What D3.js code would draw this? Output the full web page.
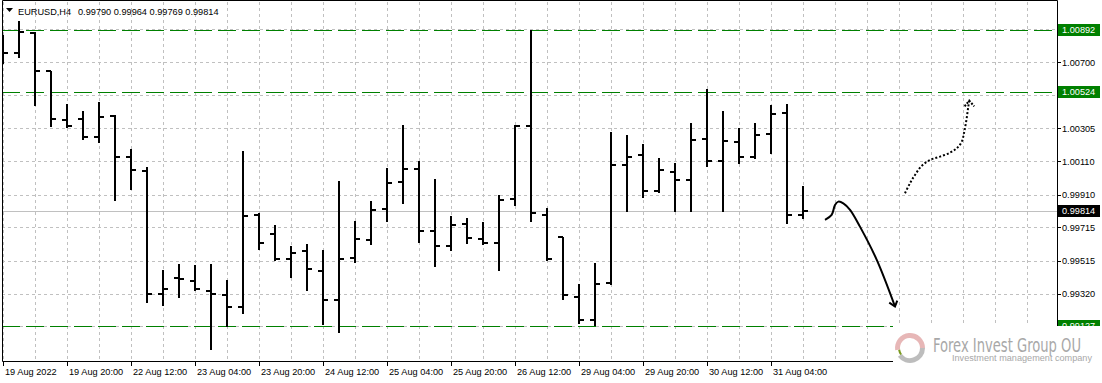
<!DOCTYPE html>
<html>
<head>
<meta charset="utf-8">
<script src="https://cdn.jsdelivr.net/npm/d3@7/dist/d3.min.js"></script>
<style>
  body { margin: 0; background: #fff; }
  svg { display: block; }
  text { font-family: "Liberation Sans", Arial, sans-serif; }
</style>
</head>
<body>
<div id="chart"></div>
<script>
// EURUSD H4 bar chart (MT4 style)
const symbolTitle = "EURUSD,H4";
const lastQuote = [0.99790, 0.99964, 0.99769, 0.99814];

const opens  = [1.00780, 1.00755, 1.00875, 1.00648, 1.00355, 1.00362, 1.00255, 1.00378, 1.00132, 1.00053,
                0.99318, 0.99414, 0.99397, 0.99338, 0.99314, 0.99239, 0.99787, 0.99676, 0.99528, 0.99573,
                0.99457, 0.99283, 0.99533, 0.99640, 0.99826, 0.99985, 1.00065, 0.99692, 0.99604, 0.99735,
                0.99648, 0.99624, 0.99886, 1.00319, 0.99791, 0.99660, 0.99299, 0.99163, 0.99382, 1.00085,
                1.00144, 0.99930, 1.00045, 0.99997, 1.00243, 1.00112, 1.00224, 1.00136, 1.00271, 1.00394,
                0.99790];
const highs  = [1.00861, 1.00942, 1.00879, 1.00648, 1.00450, 1.00410, 1.00462, 1.00386, 1.00180, 1.00073,
                0.99461, 0.99497, 0.99489, 0.99497, 0.99402, 1.00168, 0.99799, 0.99727, 0.99604, 0.99616,
                0.99580, 0.99989, 0.99755, 0.99870, 1.00069, 1.00323, 1.00109, 1.00001, 0.99783, 0.99771,
                0.99747, 0.99906, 1.00323, 1.00891, 0.99830, 0.99660, 0.99378, 0.99501, 1.00283, 1.00263,
                1.00212, 1.00128, 1.00097, 1.00335, 1.00537, 1.00406, 1.00307, 1.00335, 1.00442, 1.00450,
                0.99964];
const lows   = [1.00694, 1.00732, 1.00446, 1.00319, 1.00315, 1.00243, 1.00224, 0.99878, 0.99945, 0.99271,
                0.99254, 0.99299, 0.99342, 0.98989, 0.99128, 0.99203, 0.99588, 0.99521, 0.99421, 0.99342,
                0.99140, 0.99092, 0.99509, 0.99616, 0.99755, 0.99862, 0.99628, 0.99485, 0.99580, 0.99624,
                0.99616, 0.99461, 0.99850, 0.99751, 0.99521, 0.99287, 0.99144, 0.99135, 0.99378, 0.99811,
                0.99894, 0.99926, 0.99814, 0.99814, 1.00081, 0.99814, 1.00097, 1.00128, 1.00160, 0.99739,
                0.99769];
const closes = [1.00755, 1.00879, 1.00648, 1.00359, 1.00319, 1.00255, 1.00374, 1.00136, 1.00057, 0.99318,
                0.99350, 0.99408, 0.99350, 0.99318, 0.99239, 0.99783, 0.99624, 0.99528, 0.99564, 0.99465,
                0.99283, 0.99528, 0.99648, 0.99819, 0.99981, 1.00065, 0.99695, 0.99604, 0.99727, 0.99652,
                0.99624, 0.99878, 1.00319, 0.99799, 0.99525, 0.99311, 0.99163, 0.99378, 1.00085, 1.00136,
                0.99933, 1.00057, 0.99997, 1.00235, 1.00112, 1.00231, 1.00136, 1.00267, 1.00390, 0.99790,
                0.99814];

// grid rows; the outer two sit under the level tags and carry no label
const priceTicks = [1.00895, 1.00700, 1.00505, 1.00305, 1.00110, 0.99910, 0.99715, 0.99515, 0.99320, 0.99125];
const priceLabels = [1.00700, 1.00505, 1.00305, 1.00110, 0.99910, 0.99715, 0.99515, 0.99320];
const timeTickIdx = [0, 4, 8, 12, 16, 20, 24, 28, 32, 36, 40, 44, 48];
const timeLabels = ["19 Aug 2022", "19 Aug 20:00", "22 Aug 12:00", "23 Aug 04:00", "23 Aug 20:00",
                    "24 Aug 12:00", "25 Aug 04:00", "25 Aug 20:00", "26 Aug 12:00", "29 Aug 04:00",
                    "29 Aug 20:00", "30 Aug 12:00", "31 Aug 04:00"];
const levels = [1.00892, 1.00524, 0.99127];
const currentPrice = 0.99814;

// hand-drawn forecast arrows, in [bar index, price]
const downArrow = [[51.375, 0.99759], [51.79, 0.99789], [52.0, 0.99848], [52.21, 0.99868], [52.52, 0.99858],
                   [52.94, 0.99819], [53.56, 0.99719], [54.61, 0.99521], [55.75, 0.99243]];
const downHead  = [[55.39, 0.99266], [55.75, 0.99243], [55.89, 0.99278]];
const upArrow   = [[56.375, 0.99918], [56.69, 0.99978], [57.0, 1.00027], [57.42, 1.00081], [57.94, 1.00116],
                   [58.56, 1.00136], [59.19, 1.00160], [59.61, 1.00186], [59.92, 1.00225], [60.08, 1.00285],
                   [60.23, 1.00365], [60.33, 1.00434], [60.39, 1.00470]];
const upHead    = [[60.10, 1.00436], [60.39, 1.00470], [60.70, 1.00436]];

const width = 1102, height = 383;
const plot = { left: 2, top: 0, right: 1057, bottom: 361 };
const fs = 9.2;

const svg = d3.select('#chart').append('svg')
    .attr('width', width)
    .attr('height', height);

svg.append('rect').attr('width', width).attr('height', height).attr('fill', '#fff');

const x = d3.scaleLinear().domain([0, 64]).range([3, 1027]);
const y = d3.scaleLinear().domain([1.00700, 0.99320]).range([62, 293.6]);
const px = v => Math.round(v) + 0.5;

svg.append('defs').append('clipPath').attr('id', 'plotclip')
    .append('rect')
    .attr('x', plot.left).attr('y', plot.top)
    .attr('width', plot.right - plot.left).attr('height', plot.bottom - plot.top);

const g = svg.append('g').attr('clip-path', 'url(#plotclip)');

// grid
g.selectAll('.vgrid').data(d3.range(0, 65, 2)).enter().append('line')
    .attr('x1', d => px(x(d))).attr('x2', d => px(x(d)))
    .attr('y1', plot.top + 2).attr('y2', plot.bottom)
    .attr('stroke', '#c0c0c0').attr('stroke-dasharray', '3,3');

g.selectAll('.hgrid').data(priceTicks).enter().append('line')
    .attr('x1', plot.left).attr('x2', plot.right)
    .attr('y1', d => px(y(d))).attr('y2', d => px(y(d)))
    .attr('stroke', '#c0c0c0').attr('stroke-dasharray', '3,3');

// bid line
g.append('line')
    .attr('x1', plot.left).attr('x2', plot.right)
    .attr('y1', px(y(currentPrice))).attr('y2', px(y(currentPrice)))
    .attr('stroke', '#c0c0c0');

// support / resistance
g.selectAll('.level').data(levels).enter().append('line')
    .attr('x1', plot.left).attr('x2', plot.right)
    .attr('y1', d => px(y(d))).attr('y2', d => px(y(d)))
    .attr('stroke', '#008000').attr('stroke-dasharray', '18,6');

// OHLC bars
const bars = g.selectAll('.bar').data(opens.map((o, i) => ({ i, o, h: highs[i], l: lows[i], c: closes[i] })))
    .enter().append('g');
bars.append('line')
    .attr('x1', d => x(d.i)).attr('x2', d => x(d.i))
    .attr('y1', d => Math.round(y(d.h))).attr('y2', d => Math.round(y(d.l)) + 1)
    .attr('stroke', '#000').attr('stroke-width', 2);
bars.append('line')
    .attr('x1', d => x(d.i) - 5).attr('x2', d => x(d.i))
    .attr('y1', d => Math.round(y(d.o))).attr('y2', d => Math.round(y(d.o)))
    .attr('stroke', '#000').attr('stroke-width', 2);
bars.append('line')
    .attr('x1', d => x(d.i)).attr('x2', d => x(d.i) + 5)
    .attr('y1', d => Math.round(y(d.c))).attr('y2', d => Math.round(y(d.c)))
    .attr('stroke', '#000').attr('stroke-width', 2);

// arrows
const line = d3.line().x(d => x(d[0])).y(d => y(d[1]));
const curve = d3.line().x(d => x(d[0])).y(d => y(d[1])).curve(d3.curveCatmullRom);
g.append('path').attr('d', curve(downArrow)).attr('fill', 'none')
    .attr('stroke', '#000').attr('stroke-width', 2);
g.append('path').attr('d', line(downHead)).attr('fill', 'none')
    .attr('stroke', '#000').attr('stroke-width', 2);
g.append('path').attr('d', curve(upArrow)).attr('fill', 'none')
    .attr('stroke', '#000').attr('stroke-width', 2).attr('stroke-dasharray', '2,2');
g.append('path').attr('d', line(upHead)).attr('fill', 'none')
    .attr('stroke', '#000').attr('stroke-width', 2).attr('stroke-dasharray', '2,1.5');

// frame
svg.append('path')
    .attr('d', `M${plot.left + 0.5},${plot.bottom + 0.5}V${plot.top + 0.5}H${plot.right + 0.5}V${plot.bottom + 0.5}H${plot.left + 0.5}`)
    .attr('fill', 'none').attr('stroke', '#000');

// price axis
const pa = svg.append('g');
pa.selectAll('line').data(priceTicks).enter().append('line')
    .attr('x1', plot.right).attr('x2', plot.right + 4)
    .attr('y1', d => px(y(d))).attr('y2', d => px(y(d)))
    .attr('stroke', '#000');
pa.selectAll('text').data(priceLabels).enter().append('text')
    .attr('x', plot.right + 5).attr('y', d => y(d) + 3.5)
    .attr('font-size', fs).attr('fill', '#000')
    .text(d => d.toFixed(5));

// level labels
const tags = levels.map(v => ({ v, fill: '#008000' })).concat([{ v: currentPrice, fill: '#000' }]);
const tg = svg.selectAll('.tag').data(tags).enter().append('g');
tg.append('rect')
    .attr('x', plot.right + 1).attr('y', d => Math.round(y(d.v)) - 6)
    .attr('width', 42).attr('height', 12).attr('fill', d => d.fill);
tg.append('text')
    .attr('x', plot.right + 5).attr('y', d => y(d.v) + 3.5)
    .attr('font-size', fs).attr('fill', '#fff')
    .text(d => d.v.toFixed(5));

// time axis
const ta = svg.append('g');
ta.selectAll('line').data(timeTickIdx).enter().append('line')
    .attr('x1', d => px(x(d))).attr('x2', d => px(x(d)))
    .attr('y1', plot.bottom).attr('y2', plot.bottom + 5)
    .attr('stroke', '#000');
ta.selectAll('text').data(timeTickIdx).enter().append('text')
    .attr('x', d => x(d) + 2).attr('y', 375)
    .attr('font-size', fs).attr('fill', '#000')
    .text((d, i) => timeLabels[i]);

// title
svg.append('path').attr('d', 'M6,8H13L9.5,12Z').attr('fill', '#000');
const title = svg.append('text').attr('x', 18).attr('y', 14.5).attr('font-size', fs).attr('fill', '#000');
title.append('tspan').text(symbolTitle);
title.append('tspan').attr('x', 78).text(lastQuote.map(v => v.toFixed(5)).join(' '));

// logo
const logo = svg.append('g');
logo.append('rect').attr('x', 893).attr('y', 326).attr('width', width - 893).attr('height', height - 326).attr('fill', '#fff');
const arc = d3.arc().innerRadius(10).outerRadius(15);
logo.append('path').attr('transform', 'translate(910,348)')
    .attr('d', arc({ startAngle: -Math.PI * 0.55, endAngle: Math.PI * 0.5 }))
    .attr('fill', '#e7b7b7');
logo.append('path').attr('transform', 'translate(910,348)')
    .attr('d', arc({ startAngle: Math.PI * 0.5, endAngle: Math.PI * 1.3 }))
    .attr('fill', '#bdbdbd');
logo.append('path').attr('transform', 'translate(910,348)')
    .attr('d', d3.arc().innerRadius(10).outerRadius(12)({ startAngle: Math.PI * 1.3, endAngle: Math.PI * 1.45 }))
    .attr('fill', '#7a9a20');
logo.append('text').attr('x', 933).attr('y', 351.5)
    .attr('font-size', 19).attr('fill', '#a8a8a8')
    .attr('textLength', 148).attr('lengthAdjust', 'spacingAndGlyphs')
    .style('font-family', '"Liberation Sans Narrow", "DejaVu Sans Condensed", sans-serif')
    .text('Forex Invest Group OU');
logo.append('text').attr('x', 952).attr('y', 361)
    .attr('font-size', 8.5).attr('fill', '#a8a8a8')
    .attr('textLength', 140).attr('lengthAdjust', 'spacingAndGlyphs')
    .text('Investment management company');
</script>
</body>
</html>
